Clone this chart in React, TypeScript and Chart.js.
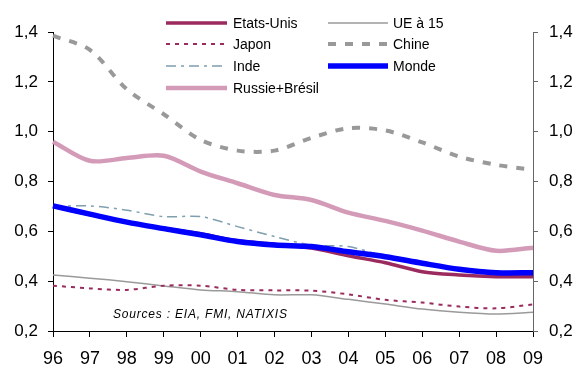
import React, { useEffect, useRef } from "react";
import { Chart, registerables } from "chart.js";

Chart.register(...registerables);

const years = ["96", "97", "98", "99", "00", "01", "02", "03", "04", "05", "06", "07", "08", "09"];

const etatsUnis = [0.700, 0.667, 0.637, 0.612, 0.590, 0.562, 0.548, 0.533, 0.502, 0.474, 0.438, 0.425, 0.418, 0.418];
const japon = [0.382, 0.371, 0.365, 0.382, 0.382, 0.365, 0.363, 0.362, 0.347, 0.325, 0.314, 0.298, 0.291, 0.307];
const inde = [0.700, 0.702, 0.685, 0.659, 0.659, 0.619, 0.579, 0.545, 0.539, 0.500, 0.475, 0.450, 0.440, 0.435];
const russieBresil = [0.960, 0.883, 0.894, 0.903, 0.840, 0.793, 0.746, 0.726, 0.675, 0.642, 0.603, 0.559, 0.522, 0.534];
const ue15 = [0.425, 0.412, 0.398, 0.381, 0.365, 0.358, 0.345, 0.345, 0.327, 0.308, 0.288, 0.275, 0.268, 0.275];
const chine = [1.385, 1.328, 1.170, 1.070, 0.967, 0.924, 0.924, 0.975, 1.014, 1.005, 0.957, 0.900, 0.867, 0.847];
const monde = [0.702, 0.669, 0.637, 0.611, 0.586, 0.559, 0.545, 0.539, 0.518, 0.498, 0.472, 0.448, 0.434, 0.434];

const yTicks = [0.2, 0.4, 0.6, 0.8, 1.0, 1.2, 1.4];
const sourceNote = "Sources : EIA, FMI, NATIXIS";

const FONT = "'Liberation Sans', Arial, sans-serif";

type Series = {
  label: string;
  data: number[];
  color: string;
  width: number;
  dash: number[];
  order: number;
};

const series: Series[] = [
  { label: "Etats-Unis", data: etatsUnis, color: "#9b2a5e", width: 3.5, dash: [], order: 1 },
  { label: "UE à 15", data: ue15, color: "#9a9a9a", width: 1.5, dash: [], order: 6 },
  { label: "Japon", data: japon, color: "#9b2a5e", width: 2, dash: [4, 5], order: 5 },
  { label: "Chine", data: chine, color: "#999999", width: 4, dash: [8, 9], order: 7 },
  { label: "Inde", data: inde, color: "#7f9fae", width: 1.5, dash: [10, 5, 3, 5], order: 2 },
  { label: "Monde", data: monde, color: "#0000ff", width: 5.5, dash: [], order: 0 },
  { label: "Russie+Brésil", data: russieBresil, color: "#d49bb8", width: 4.5, dash: [], order: 3 },
];

// Two-column legend inside the plot, plus the source note
const overlayPlugin = {
  id: "overlay",
  afterDraw(chart: Chart) {
    const ctx = chart.ctx as any;
    ctx.save();
    const cols = [
      { x0: 166, x1: 227, tx: 233 },
      { x0: 328, x1: 388, tx: 393 },
    ];
    const rows = [23, 44, 66, 88];
    series.forEach((s, i) => {
      const c = cols[i % 2];
      const y = rows[Math.floor(i / 2)];
      ctx.beginPath();
      ctx.strokeStyle = s.color;
      ctx.lineWidth = s.width;
      ctx.setLineDash(s.dash);
      ctx.lineCap = "butt";
      ctx.moveTo(c.x0, y);
      ctx.lineTo(c.x1, y);
      ctx.stroke();
      ctx.setLineDash([]);
      ctx.fillStyle = "#000";
      ctx.font = `14px ${FONT}`;
      ctx.textBaseline = "middle";
      ctx.textAlign = "left";
      ctx.fillText(s.label, c.tx, y + 1);
    });
    ctx.font = `italic 12px ${FONT}`;
    ctx.letterSpacing = "0.8px";
    ctx.fillStyle = "#000";
    ctx.textBaseline = "middle";
    ctx.fillText(sourceNote, 113, 315);
    ctx.letterSpacing = "0px";
    ctx.restore();
  },
};

const fmt = (v: number | string) => Number(v).toFixed(1).replace(".", ",");

export default function App() {
  const ref = useRef<HTMLCanvasElement | null>(null);

  useEffect(() => {
    if (!ref.current) return;
    const yAxis = (position: "left" | "right", borderColor: string, width: number, pad: number) => ({
      type: "linear" as const,
      position,
      min: yTicks[0],
      max: yTicks[yTicks.length - 1],
      afterBuildTicks: (scale: any) => {
        scale.ticks = yTicks.map((v) => ({ value: v }));
      },
      afterFit: (scale: any) => {
        scale.width = width;
      },
      ticks: {
        callback: fmt,
        color: "#000",
        font: { family: FONT, size: 17 },
        padding: pad,
      },
      grid: {
        drawOnChartArea: false,
        drawTicks: true,
        tickLength: 5,
        color: borderColor,
      },
      border: { color: borderColor, width: 1 },
    });

    const chart = new Chart(ref.current, {
      type: "line",
      data: {
        labels: years,
        datasets: series.map((s) => ({
          label: s.label,
          data: s.data,
          borderColor: s.color,
          backgroundColor: s.color,
          borderWidth: s.width,
          borderDash: s.dash,
          pointRadius: 0,
          tension: 0.3,
          fill: false,
          order: s.order,
          yAxisID: "y",
        })),
      },
      options: {
        responsive: false,
        animation: false,
        events: [],
        layout: { padding: { top: 32, left: 0, right: 0, bottom: 0 } },
        plugins: {
          legend: { display: false },
          tooltip: { enabled: false },
          title: { display: false },
        },
        scales: {
          x: {
            type: "category",
            offset: false,
            afterFit: (scale: any) => {
              scale.height = 34;
            },
            ticks: {
              color: "#000",
              font: { family: FONT, size: 18 },
              padding: 11,
              maxRotation: 0,
              autoSkip: false,
            },
            grid: {
              drawOnChartArea: false,
              tickLength: 6,
              color: "#000",
            },
            border: { color: "#000", width: 1 },
          },
          y: yAxis("left", "#000", 53, 10),
          y2: yAxis("right", "#666", 50, 11),
        },
      },
      plugins: [overlayPlugin],
    });
    return () => chart.destroy();
  }, []);

  return (
    <div style={{ position: "absolute", left: 0, top: 0, width: 583, height: 365, background: "#fff" }}>
      <canvas ref={ref} width={583} height={365} />
    </div>
  );
}
